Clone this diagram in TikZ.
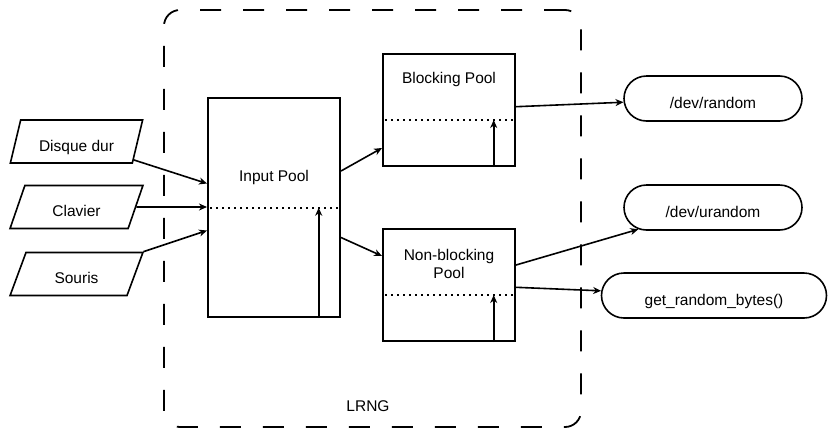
\documentclass[tikz,border=0pt]{standalone}
\usepackage{fontspec}
\setmainfont{Liberation Sans}
\usetikzlibrary{shapes.geometric,shapes.misc,arrows.meta,calc}
\tikzset{
  poolbox/.style={draw,line width=2pt,minimum width=132pt,inner sep=0pt},
  srcbox/.style={draw,line width=1.6pt,trapezium,trapezium left angle=70,trapezium right angle=110,
    trapezium stretches=true,minimum width=133pt,minimum height=43pt,inner sep=0pt,
    text height=19pt,text depth=0pt},
  sinkbox/.style={draw,line width=1.6pt,rounded rectangle,minimum height=45pt,inner sep=0pt,
    text height=19pt,text depth=0pt},
  framebox/.style={draw,line width=1.8pt,dash pattern=on 21pt off 22pt,rounded corners=16pt,
    minimum width=417pt,minimum height=417pt,inner sep=0pt},
  divline/.style={line width=1.8pt,dash pattern=on 1.8pt off 4.2pt},
  flowarrow/.style={line width=1.6pt,-{Stealth[length=8pt,width=7pt,inset=2.5pt]}}
}
\begin{document}
\begin{tikzpicture}[x=1pt,y=-1pt,font=\fontsize{15.5}{18.5}\selectfont]
    \useasboundingbox (0,0) rectangle (829,429);
    \node[framebox] (lrng) at (372.5,218.5) {};
    \node (lrnglabel) at (368,406) {LRNG};
    % sources
    \node[srcbox] (dd) at (76.5,141.5) {Disque dur};
    \node[srcbox] (cl) at (76.5,207) {Clavier};
    \node[srcbox] (so) at (76.5,274) {Souris};
    % pools
    \node[poolbox,minimum height=219pt] (ip) at (274,207.5) {};
    \node (iplabel) at (274,177) {Input Pool};
    \node[poolbox,minimum height=112pt] (bp) at (449,110) {};
    \node (bplabel) at (449,79) {Blocking Pool};
    \node[poolbox,minimum height=112pt] (nbp) at (449,285) {};
    \node[align=center] (nbplabel) at (449,264) {Non-blocking\\Pool};
    \coordinate (ip-div) at (274,207.7);
    \coordinate (bp-div) at (449,120);
    \coordinate (nbp-div) at (449,295);
    % outputs
    \node[sinkbox,minimum width=178pt] (rnd) at (713,98.5) {/dev/random};
    \node[sinkbox,minimum width=178pt] (urnd) at (713,207.5) {/dev/urandom};
    \node[sinkbox,minimum width=225pt] (grb) at (714,295.5) {get\_random\_bytes()};
    \foreach \p in {ip,bp,nbp}{
    \draw[divline] ($(\p.west |- \p-div)+(3,0)$) -- ($(\p.east |- \p-div)+(-3,0)$);
    \draw[flowarrow] ($(\p.south east)+(-22.3,0)$) -- ($(\p.east |- \p-div)+(-22.3,0)$);}
    \draw[flowarrow] (dd) -- ($(ip.west)+(0,-24)$);
    \draw[flowarrow] (cl) -- (ip.west |- cl);
    \draw[flowarrow] (so) -- ($(ip.west)+(0,23)$);
    \draw[flowarrow] ($(ip.east)+(0,-36.5)$) -- ($(bp.west)+(0,38)$);
    \draw[flowarrow] ($(ip.east)+(0,30)$) -- ($(nbp.west)+(0,-29)$);
    \draw[flowarrow] ($(bp.east)+(0,-3.3)$) -- (rnd);
    \draw[flowarrow] ($(nbp.east)+(0,-20)$) -- (urnd);
    \draw[flowarrow] ($(nbp.east)+(0,2.3)$) -- (grb);
\end{tikzpicture}
\end{document}
